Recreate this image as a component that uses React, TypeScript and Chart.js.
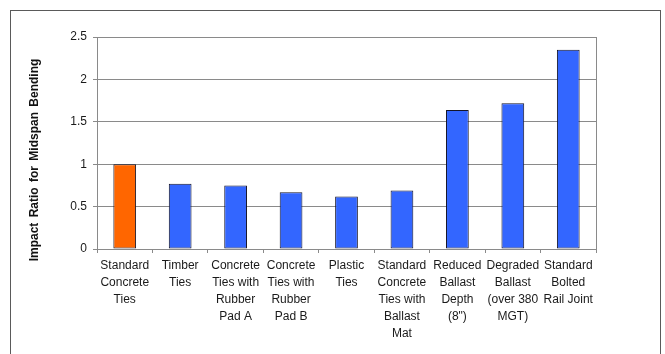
import React, { useEffect, useRef } from "react";
import { Chart, registerables } from "chart.js";

Chart.register(...registerables);

// Tie / track configurations and their midspan bending impact ratios
const categories: string[][] = [
  ["Standard", "Concrete", "Ties"],
  ["Timber", "Ties"],
  ["Concrete", "Ties with", "Rubber", "Pad A"],
  ["Concrete", "Ties with", "Rubber", "Pad B"],
  ["Plastic", "Ties"],
  ["Standard", "Concrete", "Ties with", "Ballast", "Mat"],
  ["Reduced", "Ballast", "Depth", "(8\")"],
  ["Degraded", "Ballast", "(over 380", "MGT)"],
  ["Standard", "Bolted", "Rail Joint"],
];
const impactRatios: number[] = [1.0, 0.77, 0.75, 0.67, 0.62, 0.69, 1.64, 1.72, 2.35];
const barColors: string[] = [
  "#ff6600", "#3366ff", "#3366ff", "#3366ff", "#3366ff",
  "#3366ff", "#3366ff", "#3366ff", "#3366ff",
];
const yTitle = "Impact Ratio for Midspan Bending";
const yMin = 0;
const yMax = 2.5;
const yStep = 0.5;

const FONT_FAMILY = "'Liberation Sans', Arial, sans-serif";

// Outer frame, plot-area right edge and the rotated y title
const framePlugin = {
  id: "frame",
  beforeDraw(chart: Chart) {
    const { ctx } = chart;
    ctx.save();
    ctx.fillStyle = "#ffffff";
    ctx.fillRect(0, 0, chart.width, chart.height);
    ctx.strokeStyle = "#5a5a5a";
    ctx.lineWidth = 1;
    ctx.strokeRect(10.5, 10.5, 650, 420);
    ctx.restore();
  },
  afterDraw(chart: Chart) {
    const { ctx, chartArea } = chart;
    ctx.save();
    ctx.strokeStyle = "#8a8a8a";
    ctx.lineWidth = 1;
    const x = Math.round(chartArea.right) + 0.5;
    ctx.beginPath();
    ctx.moveTo(x, chartArea.top);
    ctx.lineTo(x, chartArea.bottom);
    ctx.stroke();

    ctx.translate(35, 160);
    ctx.rotate(-Math.PI / 2);
    ctx.fillStyle = "#111111";
    ctx.font = "bold 12px 'Liberation Sans', Arial, sans-serif";
    ctx.textAlign = "center";
    ctx.textBaseline = "middle";
    (ctx as any).wordSpacing = "2px";
    ctx.fillText(yTitle, 0, 0);
    ctx.restore();
  },
};

export default function App() {
  const canvasRef = useRef<HTMLCanvasElement | null>(null);

  useEffect(() => {
    const canvas = canvasRef.current;
    if (!canvas) return;
    const chart = new Chart(canvas, {
      type: "bar",
      data: {
        labels: categories,
        datasets: [
          {
            data: impactRatios,
            backgroundColor: barColors,
            borderColor: "#141428",
            borderWidth: 1,
            borderSkipped: false,
            barPercentage: 0.41,
            categoryPercentage: 1,
          },
        ],
      },
      options: {
        responsive: false,
        animation: false,
        devicePixelRatio: 1,
        layout: { padding: { left: 0, top: 37, right: 69, bottom: 0 } },
        plugins: {
          legend: { display: false },
          tooltip: { enabled: false },
        },
        scales: {
          x: {
            offset: true,
            grid: {
              display: true,
              offset: true,
              drawOnChartArea: false,
              drawTicks: true,
              tickLength: 4,
              color: "#8a8a8a",
            },
            border: { color: "#8a8a8a" },
            ticks: {
              autoSkip: false,
              maxRotation: 0,
              minRotation: 0,
              padding: 4,
              color: "#1a1a1a",
              font: { family: FONT_FAMILY, size: 12, lineHeight: 1.42 },
            },
            afterFit(scale: any) {
              scale.height = 105;
            },
          },
          y: {
            min: yMin,
            max: yMax,
            grid: { color: "#8a8a8a", tickLength: 4 },
            border: { color: "#8a8a8a" },
            ticks: {
              stepSize: yStep,
              padding: 6,
              color: "#1a1a1a",
              font: { family: FONT_FAMILY, size: 12 },
              callback: (value: any) => String(Number(value)),
            },
            afterFit(scale: any) {
              scale.width = 97;
            },
          },
        },
      },
      plugins: [framePlugin],
    });
    return () => chart.destroy();
  }, []);

  return (
    <div style={{ position: "fixed", left: 0, top: 0, width: 665, height: 354, background: "#fff" }}>
      <canvas ref={canvasRef} width={665} height={354} style={{ width: 665, height: 354, display: "block" }} />
    </div>
  );
}
